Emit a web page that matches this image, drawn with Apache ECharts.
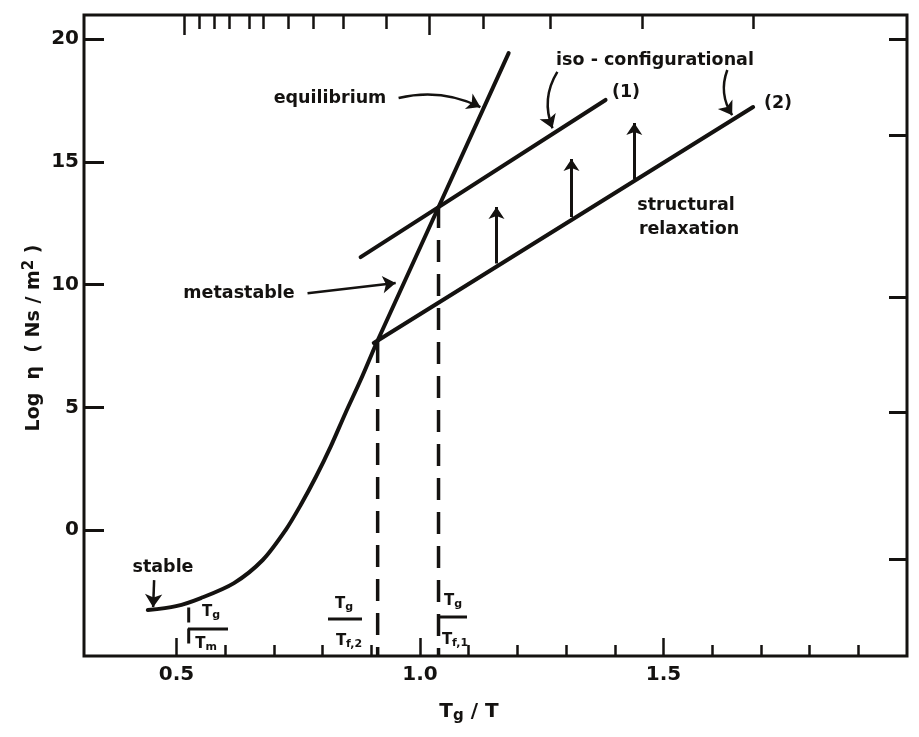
<!DOCTYPE html>
<html>
<head>
<meta charset="utf-8">
<script src="https://cdn.jsdelivr.net/npm/echarts@6/dist/echarts.min.js"></script>
<style>
  html, body { margin: 0; padding: 0; background: #fff; }
  #chart { width: 919px; height: 737px; }
</style>
</head>
<body>
<div id="chart"></div>
<script>
// ---- axis ticks (Tg/T on x, log viscosity on y) ----
const xTickLabels = [0.5, 1.0, 1.5];
const xTicksMajor = [0.5, 1.0, 1.5];
const xTicksMinor = [0.6, 0.7, 0.8, 0.9, 1.1, 1.2, 1.3, 1.4, 1.6, 1.7, 1.8, 1.9];
const topTicksMajor = [0.515, 1.018];
const topTicksMinor = [0.546, 0.577, 0.609, 0.650, 0.679, 0.730, 0.780, 0.843, 0.931, 1.130, 1.268, 1.456, 1.684];
const yTicks = [0, 5, 10, 15, 20];
const rightTicks = [20, 16.1, 9.5, 4.8, -1.2];

// ---- viscosity curve: stable -> metastable (curved part) ----
const viscX = [0.441, 0.499, 0.550, 0.618, 0.677, 0.724, 0.755, 0.786, 0.817, 0.847, 0.878, 0.909];
const viscY = [-3.26, -3.10, -2.77, -2.16, -1.22, 0.00, 1.02, 2.16, 3.42, 4.77, 6.11, 7.55];
// ---- equilibrium line (straight part) ----
const equilX = [0.909, 1.040, 1.182];
const equilY = [7.55, 13.24, 19.43];

// ---- iso-configurational lines (1) and (2) ----
const iso1X = [0.878, 1.381];
const iso1Y = [11.12, 17.52];
const iso2X = [0.905, 1.684];
const iso2Y = [7.62, 17.23];

// ---- structural relaxation arrows ----
const relaxX = [1.157, 1.311, 1.440];
const relaxFrom = [10.86, 12.75, 14.30];
const relaxTo = [13.16, 15.11, 16.58];

// ---- fictive temperature ratios Tg/Tf,2 and Tg/Tf,1, and Tg/Tm ----
const fictiveX = [0.913, 1.038];
const fictiveY = [7.70, 13.20];
const meltX = 0.525;
const meltY = [-3.15, -4.85];

const X_MIN = 0.31, X_MAX = 2.0, Y_MIN = -5.13, Y_MAX = 20.98;
const INK = '#141210';
const FONT = 'DejaVu Sans';

// annotation arrows: [start, end, curveness] in data units
const pointers = [
  [[0.956, 17.60], [1.124, 17.23], 0.18],   // equilibrium
  [[0.769, 9.65], [0.950, 10.06], 0.0],     // metastable
  [[1.282, 18.66], [1.272, 16.37], -0.25],  // iso (1)
  [[1.631, 18.74], [1.641, 16.90], -0.25],  // iso (2)
  [[0.454, -2.04], [0.452, -3.14], 0.0]     // stable
];

const zip = (xs, ys) => xs.map((x, i) => [x, ys[i]]);

const chart = echarts.init(document.getElementById('chart'), null, { renderer: 'canvas' });

const labelStyle = { fontFamily: FONT, fontWeight: 'bold', fontSize: 20, color: INK };
const noLabel = { show: false };
const noLine = { show: false, onZero: false };

function tickAxis(pos, values, len, width, labels) {
  return {
    type: 'value', position: pos, min: X_MIN, max: X_MAX,
    axisLine: noLine, splitLine: { show: false },
    axisTick: { show: true, inside: true, length: len, customValues: values,
                lineStyle: { color: INK, width: width } },
    axisLabel: labels ? Object.assign({ customValues: labels, margin: 9,
                formatter: v => v.toFixed(1) }, labelStyle) : noLabel
  };
}

const lineSeries = (data, extra) => Object.assign({
  type: 'line', data: data, symbol: 'none', silent: true,
  lineStyle: { color: INK, width: 4, cap: 'round' }
}, extra || {});

const option = {
  backgroundColor: '#ffffff',
  animation: false,
  grid: { left: 84, right: 12, top: 15, bottom: 81, show: true,
          borderColor: INK, borderWidth: 3, backgroundColor: 'transparent' },
  xAxis: [
    tickAxis('bottom', xTicksMinor, 11, 2.5, xTickLabels),
    tickAxis('bottom', xTicksMajor, 18, 2.5, null),
    tickAxis('top', topTicksMinor, 14, 2.5, null),
    tickAxis('top', topTicksMajor, 20, 2.5, null)
  ],
  yAxis: [
    {
      type: 'value', position: 'left', min: Y_MIN, max: Y_MAX,
      axisLine: noLine, splitLine: { show: false },
      axisTick: { show: true, inside: true, length: 20, customValues: yTicks,
                  lineStyle: { color: INK, width: 3 } },
      axisLabel: Object.assign({ customValues: yTicks, margin: 5 }, labelStyle)
    },
    {
      type: 'value', position: 'right', min: Y_MIN, max: Y_MAX,
      axisLine: noLine, splitLine: { show: false },
      axisTick: { show: true, inside: true, length: 18, customValues: rightTicks,
                  lineStyle: { color: INK, width: 3 } },
      axisLabel: noLabel
    }
  ],
  series: [
    lineSeries(zip(viscX, viscY), { smooth: 0.3 }),
    lineSeries(zip(equilX, equilY)),
    lineSeries(zip(iso1X, iso1Y)),
    lineSeries(zip(iso2X, iso2Y)),
    // dashed drops from the fictive points to the axis
    lineSeries([[fictiveX[0], fictiveY[0]], [fictiveX[0], Y_MIN]],
      { lineStyle: { color: INK, width: 3.5, type: [22, 12] } }),
    lineSeries([[fictiveX[1], fictiveY[1]], [fictiveX[1], Y_MIN]],
      { lineStyle: { color: INK, width: 3.5, type: [22, 12] } }),
    lineSeries([[meltX, meltY[0]], [meltX, meltY[1]]],
      { lineStyle: { color: INK, width: 3, type: [15, 6] } }),
    {
      type: 'lines', coordinateSystem: 'cartesian2d', silent: true,
      symbol: ['none', 'arrow'], symbolSize: [10, 12],
      lineStyle: { color: INK, width: 3, opacity: 1 },
      data: relaxX.map((x, i) => ({ coords: [[x, relaxFrom[i]], [x, relaxTo[i]]] }))
    },
    {
      type: 'lines', coordinateSystem: 'cartesian2d', silent: true,
      symbol: ['none', 'arrow'], symbolSize: [10, 13],
      lineStyle: { color: INK, width: 2.5, opacity: 1 },
      data: pointers.map(p => ({ coords: [p[0], p[1]], lineStyle: { curveness: p[2] } }))
    }
  ],
  graphic: [
    { type: 'text', x: 34, y: 338, rotation: Math.PI / 2,
      style: { text: 'Log  η  ( Ns / m{sup|2} )', font: 'bold 19px "DejaVu Sans"', fill: INK,
               align: 'center', verticalAlign: 'middle',
               rich: { sup: { fontSize: 15, fontWeight: 'bold', fontFamily: FONT, fill: INK, verticalAlign: 'top', padding: [0, 0, 10, 0] } } } },
    { type: 'text', x: 469, y: 712,
      style: { text: 'T{sub|g} / T', font: 'bold 20px "DejaVu Sans"', fill: INK,
               align: 'center', verticalAlign: 'middle',
               rich: { sub: { fontSize: 15, fontWeight: 'bold', fontFamily: FONT, fill: INK, padding: [8, 0, 0, 0] } } } },
    ...[
      ['equilibrium', 330, 98],
      ['metastable', 239, 293],
      ['iso - configurational', 655, 60],
      ['(1)', 626, 92],
      ['(2)', 778, 103],
      ['structural', 686, 205],
      ['relaxation', 689, 229],
      ['stable', 163, 567]
    ].map(t => ({ type: 'text', x: t[1], y: t[2],
      style: { text: t[0], font: 'bold 17.5px "DejaVu Sans"', fill: INK, align: 'center', verticalAlign: 'middle' } })),
    // fraction labels on the temperature axis
    ...[
      ['T{s|g}', 211, 612], ['T{s|m}', 206, 644],
      ['T{s|g}', 344, 604], ['T{s|f,2}', 349, 641],
      ['T{s|g}', 453, 601], ['T{s|f,1}', 455, 640]
    ].map(t => ({ type: 'text', x: t[1], y: t[2],
      style: { text: t[0], font: 'bold 15px "DejaVu Sans"', fill: INK, align: 'center', verticalAlign: 'middle',
               rich: { s: { fontSize: 11, fontWeight: 'bold', fontFamily: FONT, fill: INK, padding: [6, 0, 0, 0] } } } })),
    ...[
      [188, 629, 228, 629], [328, 619, 362, 619], [437, 617, 467, 617]
    ].map(l => ({ type: 'line', shape: { x1: l[0], y1: l[1], x2: l[2], y2: l[3] },
      style: { stroke: INK, lineWidth: 3 } }))
  ]
};

chart.setOption(option);
</script>
</body>
</html>
